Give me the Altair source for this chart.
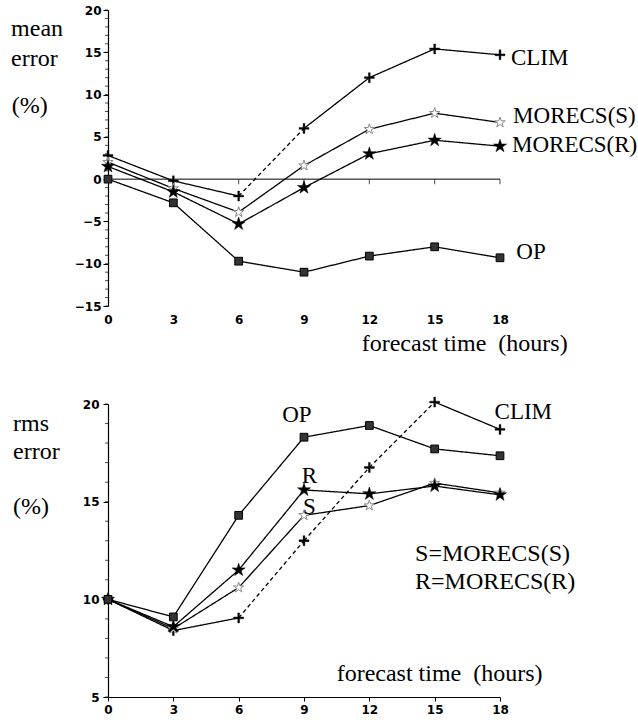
import altair as alt
import pandas as pd

# Forecast lead times (hours)
HOURS = [0, 3, 6, 9, 12, 15, 18]
SERIES = ["CLIM", "MORECS(S)", "MORECS(R)", "OP"]

# Mean error (%) of each forecast scheme
MEAN_CLIM = [2.8, -0.2, -2.0, 6.0, 12.0, 15.4, 14.7]
MEAN_S = [2.0, -1.1, -3.9, 1.6, 5.9, 7.8, 6.7]
MEAN_R = [1.5, -1.5, -5.3, -1.0, 3.0, 4.6, 3.9]
MEAN_OP = [0.0, -2.8, -9.7, -11.0, -9.1, -8.0, -9.3]

# Root-mean-square error (%) of each forecast scheme
RMS_CLIM = [10.0, 8.4, 9.05, 13.0, 16.75, 20.1, 18.7]
RMS_S = [10.0, 8.5, 10.6, 14.3, 14.8, 15.95, 15.45]
RMS_R = [10.0, 8.6, 11.5, 15.6, 15.4, 15.8, 15.35]
RMS_OP = [10.0, 9.1, 14.3, 18.3, 18.9, 17.7, 17.35]

# Labelled y-axis values of each panel
MEAN_TICKS = [-15, -10, -5, 0, 5, 10, 15, 20]
RMS_TICKS = [5, 10, 15, 20]

# Series labels beside the curves: (text, hour, value)
MEAN_LABELS = [
    ("CLIM", 18.5, 14.3),
    ("MORECS(S)", 18.6, 7.45),
    ("MORECS(R)", 18.55, 4.0),
    ("OP", 18.75, -8.6),
]
RMS_LABELS = [
    ("OP", 8.0, 19.44),
    ("R", 8.9, 16.3),
    ("S", 8.95, 14.73),
    ("CLIM", 17.75, 19.58),
]
# Axis captions and key: (text, hour, value)
MEAN_CAPTIONS = [
    ("forecast time\u00a0\u00a0(hours)", 11.65, -19.5),
    ("mean", -4.45, 17.7),
    ("error", -4.45, 14.2),
    ("(%)", -4.42, 8.6),
]
RMS_CAPTIONS = [
    ("S=MORECS(S)", 14.1, 12.33),
    ("R=MORECS(R)", 14.1, 10.88),
    ("forecast time\u00a0\u00a0(hours)", 10.5, 6.19),
    ("rms", -4.36, 18.98),
    ("error", -4.36, 17.53),
    ("(%)", -4.36, 14.72),
]

PANEL_W = 392
SERIF = "Liberation Serif"
SANS = "DejaVu Sans"

STAR = ("M0,-1L0.2245,-0.309L0.951,-0.309L0.363,0.118L0.588,0.809L0,0.382"
        "L-0.588,0.809L-0.363,0.118L-0.951,-0.309L-0.2245,-0.309Z")
PLUS = ("M-1,-0.18H-0.18V-1H0.18V-0.18H1V0.18H0.18V1H-0.18V0.18H-1Z")

# marker drawing for each series
MARKER_STYLE = {
    "CLIM": dict(shape=PLUS, size=100, fill="black", stroke="black", strokeWidth=0.4),
    "MORECS(S)": dict(shape=STAR, size=120, fill="white", stroke="#8a8a8a", strokeWidth=1),
    "MORECS(R)": dict(shape=STAR, size=190, fill="black", stroke="black", strokeWidth=0.5),
    "OP": dict(shape="square", size=60, fill="#333333", stroke="black", strokeWidth=1),
}


def points_table(values):
    rows = []
    for name, vals in zip(SERIES, values):
        for h, v in zip(HOURS, vals):
            rows.append({"series": name, "hour": h, "value": v})
    return pd.DataFrame(rows)


def segments_table(values, dashed_span):
    rows = []
    for name, vals in zip(SERIES, values):
        for i in range(len(HOURS) - 1):
            h0, h1 = HOURS[i], HOURS[i + 1]
            dashed = name == "CLIM" and dashed_span[0] <= h0 and h1 <= dashed_span[1]
            rows.append({
                "series": name, "hour": h0, "hour2": h1,
                "value": vals[i], "value2": vals[i + 1],
                "style": "dashed" if dashed else "solid",
            })
    return pd.DataFrame(rows)


def text_layer(notes, size):
    return alt.Chart(pd.DataFrame(notes, columns=["text", "hour", "value"])).mark_text(
        align="left", baseline="middle", font=SERIF, fontSize=size, color="black"
    ).encode(x="hour:Q", y="value:Q", text="text:N")


def panel(values, ticks, height, dashed_span, labels, captions, zero_axis):
    y_lo, y_hi = ticks[0], ticks[-1]
    x_scale = alt.Scale(domain=[HOURS[0], HOURS[-1]], nice=False)
    y_scale = alt.Scale(domain=[y_lo, y_hi], nice=False, zero=False)
    if zero_axis:
        x_axis = alt.Axis(values=HOURS, domain=False, ticks=False, labelPadding=8,
                          labelFlush=False, labelOverlap=False, title=None, grid=False)
    else:
        x_axis = alt.Axis(values=HOURS, tickSize=4, labelPadding=3,
                          labelFlush=False, labelOverlap=False, title=None, grid=False)
    y_axis = alt.Axis(values=ticks, tickSize=5, labelPadding=2 if zero_axis else 4,
                      labelFlush=False, labelOverlap=False, title=None, grid=False)

    segs = alt.Chart(segments_table(values, dashed_span)).mark_rule(
        color="black", strokeWidth=1.3
    ).encode(
        x=alt.X("hour:Q", scale=x_scale, axis=x_axis),
        x2="hour2:Q",
        y=alt.Y("value:Q", scale=y_scale, axis=y_axis),
        y2="value2:Q",
        strokeDash=alt.StrokeDash(
            "style:N",
            scale=alt.Scale(domain=["solid", "dashed"], range=[[1, 0], [4, 3]]),
            legend=None,
        ),
    )

    # minor ticks every 1 % on the y axis
    minor = alt.Chart(pd.DataFrame({
        "hour": [HOURS[0]] * (y_hi - y_lo + 1),
        "value": list(range(y_lo, y_hi + 1)),
    })).mark_tick(orient="horizontal", size=3, thickness=1, xOffset=-1.5, color="black").encode(
        x="hour:Q", y="value:Q"
    )

    layers = [segs, minor]
    if zero_axis:
        zero = alt.Chart(pd.DataFrame({"hour": [HOURS[0]], "hour2": [HOURS[-1]], "value": [0]}))
        layers.append(
            zero.mark_rule(color="black", strokeWidth=1).encode(x="hour:Q", x2="hour2:Q", y="value:Q")
        )
        zticks = alt.Chart(pd.DataFrame({"hour": HOURS[1:], "value": [0] * (len(HOURS) - 1)}))
        layers.append(
            zticks.mark_tick(orient="vertical", size=5, thickness=1, yOffset=2.5, color="black")
            .encode(x="hour:Q", y="value:Q")
        )

    pts = points_table(values)
    for name in SERIES:
        layers.append(
            alt.Chart(pts[pts["series"] == name])
            .mark_point(opacity=1, filled=False, **MARKER_STYLE[name])
            .encode(x="hour:Q", y="value:Q")
        )

    layers += [text_layer(labels, 23), text_layer(captions, 24)]
    return alt.layer(*layers).properties(width=PANEL_W, height=height)


top = panel([MEAN_CLIM, MEAN_S, MEAN_R, MEAN_OP], MEAN_TICKS, 296, (6, 9),
            MEAN_LABELS, MEAN_CAPTIONS, True)
bottom = panel([RMS_CLIM, RMS_S, RMS_R, RMS_OP], RMS_TICKS, 293, (6, 15),
               RMS_LABELS, RMS_CAPTIONS, False)

chart = (
    alt.vconcat(top, bottom, spacing=98, bounds="flush")
    .properties(padding={"left": 11, "top": 4, "right": 0, "bottom": 1}, background="white")
    .configure_view(stroke=None)
    .configure_axis(
        labelFont=SANS, labelFontWeight="bold", labelFontSize=12,
        labelColor="black", domainColor="black", tickColor="black",
        domainWidth=1.2, tickWidth=1,
    )
)

chart.save("out.html", embed_options={"renderer": "svg", "actions": False})
